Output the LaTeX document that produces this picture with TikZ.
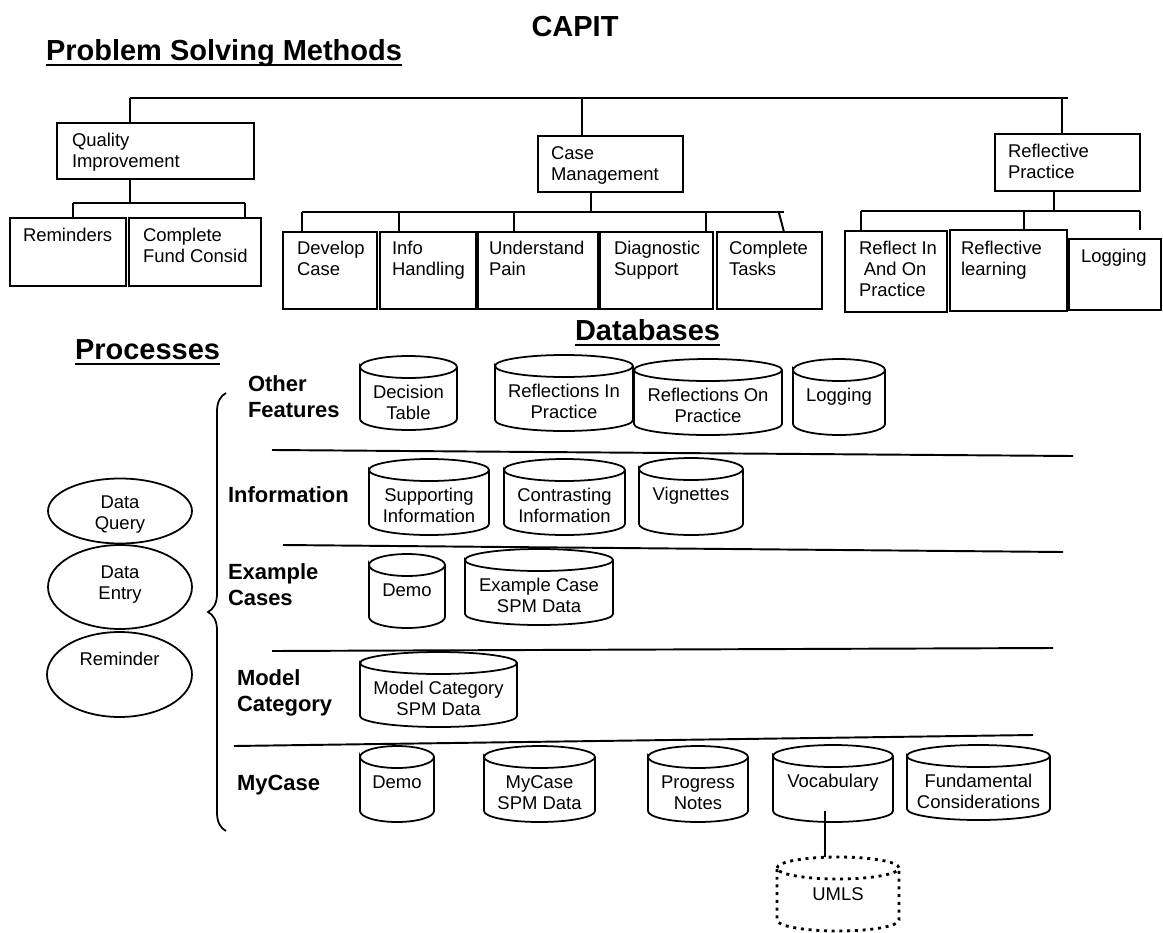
\documentclass[tikz,border=0pt]{standalone}
\usepackage{fontspec}
\setmainfont{Liberation Sans}
\usetikzlibrary{calc,fit,decorations.pathreplacing,shapes.geometric}
\begin{document}
\begin{tikzpicture}[x=0.02cm,y=-0.02cm,
  every node/.style={inner sep=0pt, outer sep=0pt},
  box/.style={draw, line width=1.1pt},
  btext/.style={anchor=north west, align=left, font=\fontsize{10.5}{11.9}\selectfont},
  tree/.style={line width=1.1pt},
  heading/.style={anchor=base west, font=\fontsize{16.5}{19}\selectfont\bfseries},
  uline/.style={line width=1.4pt},
  rowlabel/.style={anchor=north west, align=left, font=\fontsize{12.5}{14.3}\selectfont\bfseries},
  cylbody/.style={draw=none},
  cyltext/.style={anchor=north, align=center, font=\fontsize{10.5}{11.9}\selectfont},
  cylline/.style={line width=1pt},
  umlsline/.style={line width=1.6pt, dash pattern=on 1.7pt off 2.7pt},
  divider/.style={line width=1.1pt},
  proc/.style={draw, ellipse, line width=1pt},
  ptext/.style={anchor=north, align=center, font=\fontsize{10.5}{11.9}\selectfont},
  ]
\useasboundingbox (0,0) rectangle (1163,933);

% ---------- headings ----------
\node[heading, anchor=base] (capit) at (575,36) {CAPIT};
\node[heading] (psm) at (46,60) {Problem Solving Methods};
\draw[uline] ($(psm.base west)+(0,5)$) -- ($(psm.base east)+(0,5)$);
\node[heading] (dbh) at (575,340) {Databases};
\draw[uline] ($(dbh.base west)+(0,5)$) -- ($(dbh.base east)+(0,5)$);
\node[heading] (proch) at (75,359) {Processes};
\draw[uline] ($(proch.base west)+(0,5)$) -- ($(proch.base east)+(0,5)$);

% ---------- problem solving method boxes ----------
\node[box, fit={(57,123)(254,179)}] (qi) {};
\node[btext] (qi-t) at (72,133.5) {Quality\\Improvement};
\node[box, fit={(538,136)(683,192)}] (cm) {};
\node[btext] (cm-t) at (551,146.5) {Case\\Management};
\node[box, fit={(995,134)(1140,191)}] (rp) {};
\node[btext] (rp-t) at (1008,144.5) {Reflective\\Practice};

\node[box, fit={(10,218)(126,286)}] (rem) {};
\node[btext] (rem-t) at (23,228.5) {Reminders};
\node[box, fit={(129,218)(261,286)}] (cfc) {};
\node[btext] (cfc-t) at (143,228.5) {Complete\\Fund Consid};

\node[box, fit={(283,232)(377,309)}] (dc) {};
\node[btext] (dc-t) at (297,241.5) {Develop\\Case};
\node[box, fit={(380,232)(476,309)}] (ih) {};
\node[btext] (ih-t) at (392,241.5) {Info\\Handling};
\node[box, fit={(478,232)(598,309)}] (up) {};
\node[btext] (up-t) at (489,241.5) {Understand\\Pain};
\node[box, fit={(600,232)(713,309)}] (ds) {};
\node[btext] (ds-t) at (614,241.5) {Diagnostic\\Support};
\node[box, fit={(717,232)(822,309)}] (ct) {};
\node[btext] (ct-t) at (729,241.5) {Complete\\Tasks};

\node[box, fit={(845,231)(947,312)}] (rio) {};
\node[btext] (rio-t) at (859,241.5) {Reflect In\\\hspace{2.8pt}And On\\Practice};
\node[box, fit={(950,230)(1067,311)}] (rl) {};
\node[btext] (rl-t) at (961,241.5) {Reflective\\learning};
\node[box, fit={(1069,239)(1161,310)}] (lgb) {};
\node[btext] (lgb-t) at (1081,249.5) {Logging};

% ---------- tree connectors ----------
\coordinate (busL) at (130,98);
\coordinate (busR) at (1068,98);
\coordinate (jcm) at (582,98);
\coordinate (jrp) at (1062,98);
\draw[tree] (busL) -- (busR);
\draw[tree] (busL) -- (busL |- qi.north);
\draw[tree] (jcm) -- (jcm |- cm.north);
\draw[tree] (jrp) -- (jrp |- rp.north);

\coordinate (qs) at (130,203);
\coordinate (qsL) at (73,203);
\coordinate (qsR) at (245,203);
\draw[tree] (qs |- qi.south) -- (qs);
\draw[tree] (qsL) -- (qsR);
\draw[tree] (qsL) -- (qsL |- rem.north);
\draw[tree] (qsR) -- (qsR |- cfc.north);

\coordinate (cs) at (591,212);
\coordinate (csL) at (302,212);
\coordinate (csR) at (784,212);
\coordinate (cs2) at (399,212);
\coordinate (cs3) at (514,212);
\coordinate (cs4) at (706,212);
\coordinate (cs5) at (779,213);
\coordinate (cs5e) at (784,231);
\draw[tree] (cs |- cm.south) -- (cs);
\draw[tree] (csL) -- (csR);
\draw[tree] (csL) -- (csL |- dc.north);
\draw[tree] (cs2) -- (cs2 |- ih.north);
\draw[tree] (cs3) -- (cs3 |- up.north);
\draw[tree] (cs4) -- (cs4 |- ds.north);
\draw[tree] (cs5) -- (cs5e |- ct.north);

\coordinate (rs) at (1054,211);
\coordinate (rsL) at (861,211);
\coordinate (rsM) at (1024,211);
\coordinate (rsR) at (1140,211);
\coordinate (rsE) at (1140,230);
\draw[tree] (rs |- rp.south) -- (rs);
\draw[tree] (rsL) -- (rsR);
\draw[tree] (rsL) -- (rsL |- rio.north);
\draw[tree] (rsM) -- (rsM |- rl.north);
\draw[tree] (rsR) -- (rsE);

% ---------- processes ----------
\node[proc, minimum width=2.88cm, minimum height=1.3cm] (dq) at (120,511) {};
\node[ptext] (dq-t) at (120,495.5) {Data\\Query};
\node[proc, minimum width=2.88cm, minimum height=1.68cm] (de) at (120,587) {};
\node[ptext] (de-t) at (120,565.5) {Data\\Entry};
\node[proc, minimum width=2.9cm, minimum height=1.7cm] (rmd) at (119.5,674.5) {};
\node[ptext] (rmd-t) at (119.5,652.5) {Reminder};

\draw[line width=1pt, decorate, decoration={brace, amplitude=0.36cm, aspect=0.5}] (226,831) -- (226,393);

% ---------- row labels ----------
\node[rowlabel] (l-of) at (248,376) {Other\\Features};
\node[rowlabel] (l-in) at (228,487) {Information};
\node[rowlabel] (l-ec) at (228,564) {Example\\Cases};
\node[rowlabel] (l-mc) at (237,670) {Model\\Category};
\node[rowlabel] (l-my) at (237,775) {MyCase};

% ---------- dividers ----------
\draw[divider] (272,450) -- (1073,456);
\draw[divider] (283,545) -- (1063,552);
\draw[divider] (272,651) -- (1053,648);
\draw[divider] (234,746) -- (1033,735);

% ---------- database cylinders ----------
\node[cylbody, fit={(360,378)(457,430)}] (dt) {};
\node[cyltext] (dt-t) at ($(dt.north)+(0,7.5)$) {Decision\\Table};
\node[cylbody, fit={(495,377)(633,431)}] (rip) {};
\node[cyltext] (rip-t) at ($(rip.north)+(0,7.5)$) {Reflections In\\Practice};
\node[cylbody, fit={(634,381)(782,435)}] (rop) {};
\node[cyltext] (rop-t) at ($(rop.north)+(0,7.5)$) {Reflections On\\Practice};
\node[cylbody, fit={(793,381)(885,435)}] (lgc) {};
\node[cyltext] (lgc-t) at ($(lgc.north)+(0,7.5)$) {Logging};

\node[cylbody, fit={(369,481)(489,535)}] (sup) {};
\node[cyltext] (sup-t) at ($(sup.north)+(0,7.5)$) {Supporting\\Information};
\node[cylbody, fit={(504,481)(625,535)}] (con) {};
\node[cyltext] (con-t) at ($(con.north)+(0,7.5)$) {Contrasting\\Information};
\node[cylbody, fit={(639,480)(743,535)}] (vig) {};
\node[cyltext] (vig-t) at ($(vig.north)+(0,7.5)$) {Vignettes};

\node[cylbody, fit={(369,576)(445,628)}] (demoa) {};
\node[cyltext] (demoa-t) at ($(demoa.north)+(0,7.5)$) {Demo};
\node[cylbody, fit={(465,571)(613,625)}] (ecs) {};
\node[cyltext] (ecs-t) at ($(ecs.north)+(0,7.5)$) {Example Case\\SPM Data};

\node[cylbody, fit={(360,674)(517,727)}] (mcs) {};
\node[cyltext] (mcs-t) at ($(mcs.north)+(0,7.5)$) {Model Category\\SPM Data};

\node[cylbody, fit={(360,768)(434,822)}] (demob) {};
\node[cyltext] (demob-t) at ($(demob.north)+(0,7.5)$) {Demo};
\node[cylbody, fit={(484,768)(595,822)}] (mycs) {};
\node[cyltext] (mycs-t) at ($(mycs.north)+(0,7.5)$) {MyCase\\SPM Data};
\node[cylbody, fit={(648,768)(748,822)}] (pn) {};
\node[cyltext] (pn-t) at ($(pn.north)+(0,7.5)$) {Progress\\Notes};
\node[cylbody, fit={(773,767)(893,822)}] (voc) {};
\node[cyltext] (voc-t) at ($(voc.north)+(0,7.5)$) {Vocabulary};
\node[cylbody, fit={(907,767)(1050,820)}] (fc) {};
\node[cyltext] (fc-t) at ($(fc.north)+(0,7.5)$) {Fundamental\\Considerations};

\node[cylbody, fit={(777,879)(899,931)}] (umls) {};
\node[cyltext] (umls-t) at ($(umls.north)+(0,9)$) {UMLS};

\foreach \nm in {dt,rip,rop,lgc,sup,con,vig,demoa,ecs,mcs,demob,mycs,pn,voc,fc}{
  \draw[cylline] let \p1=(\nm.north west), \p2=(\nm.south east), \n1={(\x2-\x1)/2} in
    ({\x1},{\y1+0.22cm}) arc[start angle=180, end angle=-180, x radius=\n1, y radius=0.22cm]
    -- ({\x1},{\y2+0.22cm}) arc[start angle=180, end angle=360, x radius=\n1, y radius=0.22cm]
    -- ({\x2},{\y1+0.22cm});
}
\draw[umlsline] let \p1=(umls.north west), \p2=(umls.south east), \n1={(\x2-\x1)/2} in
    ({\x1},{\y1+0.22cm}) arc[start angle=180, end angle=-180, x radius=\n1, y radius=0.22cm]
    -- ({\x1},{\y2+0.22cm}) arc[start angle=180, end angle=360, x radius=\n1, y radius=0.22cm]
    -- ({\x2},{\y1+0.22cm});

\draw[line width=1pt] ($(voc.south)+(-8,-11)$) -- ($(umls.north)+(-13,-22)$);
\end{tikzpicture}
\end{document}
